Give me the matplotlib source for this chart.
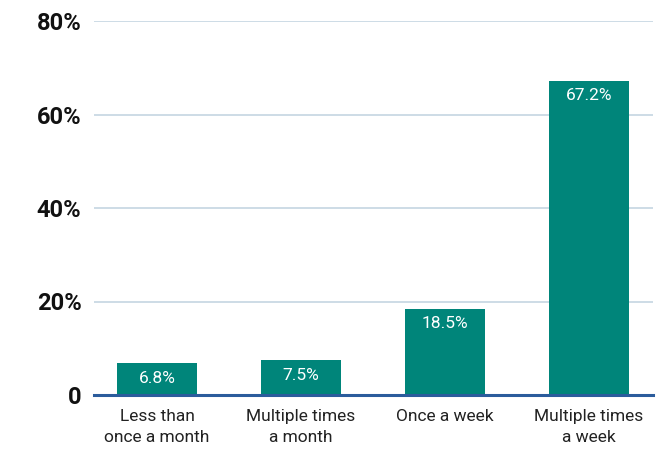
import matplotlib
matplotlib.use("Agg")
import matplotlib.pyplot as plt

categories = ["Less than\nonce a month", "Multiple times\na month", "Once a week", "Multiple times\na week"]
values = [6.8, 7.5, 18.5, 67.2]
yticks = [0, 20, 40, 60, 80]
ytick_labels = ["0", "20%", "40%", "60%", "80%"]

plt.rcParams['font.family'] = ['Liberation Sans Narrow', 'Roboto', 'DejaVu Sans']

fig = plt.figure(figsize=(6.69, 4.5), dpi=100)
ax = fig.add_axes([94/669, 1 - 395/450, 559/669, (395-21)/450])

x = list(range(len(categories)))
bars = ax.bar(x, values, width=0.556, color="#00857A", zorder=3)
for xi, v in zip(x, values):
    ax.annotate(f"{v:.1f}%", (xi, v), xytext=(0, -5.5), textcoords="offset points",
                ha="center", va="top", color="white", fontsize=12.5, zorder=4)

ax.set_xlim(-0.4375, 3.444)
ax.set_ylim(0, 80)
ax.set_yticks(yticks)
ax.set_yticklabels(ytick_labels, fontsize=17, fontweight="bold", color="#111111")
ax.set_xticks(x)
ax.set_xticklabels(categories, fontsize=12.5, color="#222222", linespacing=1.5)
ax.tick_params(axis="both", length=0)
ax.tick_params(axis="y", pad=9)
ax.tick_params(axis="x", pad=10)
ax.grid(axis="y", color="#C5D6E2", linewidth=1.2, zorder=0)
for s in ["top", "right", "left"]:
    ax.spines[s].set_visible(False)
ax.spines["bottom"].set_color("#2B5C9C")
ax.spines["bottom"].set_linewidth(2.2)
ax.spines["bottom"].set_zorder(5)

fig.savefig("out.png", dpi=100)
